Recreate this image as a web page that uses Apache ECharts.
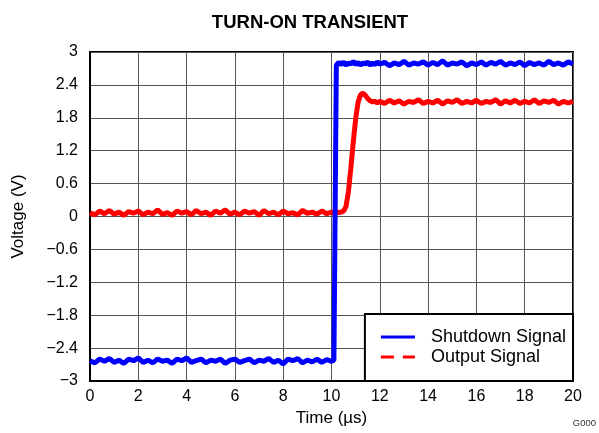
<!DOCTYPE html>
<html><head><meta charset="utf-8">
<script src="https://cdn.jsdelivr.net/npm/echarts@6/dist/echarts.min.js"></script>
<style>html,body{margin:0;padding:0;background:#fff}#c{width:599px;height:433px}</style>
</head><body><div id="c"></div>
<script>
const titleText = 'TURN-ON TRANSIENT';
const xName = 'Time (µs)';
const yName = 'Voltage (V)';
const seriesNames = ['Shutdown Signal', 'Output Signal'];
const xTicks = [0, 2, 4, 6, 8, 10, 12, 14, 16, 18, 20];
const yTicks = [-3, -2.4, -1.8, -1.2, -0.6, 0, 0.6, 1.2, 1.8, 2.4, 3];

const time = [
  0, 0.2, 0.4, 0.6, 0.8, 1, 1.2, 1.4, 1.6, 1.8,
  2, 2.2, 2.4, 2.6, 2.8, 3, 3.2, 3.4, 3.6, 3.8,
  4, 4.2, 4.4, 4.6, 4.8, 5, 5.2, 5.4, 5.6, 5.8,
  6, 6.2, 6.4, 6.6, 6.8, 7, 7.2, 7.4, 7.6, 7.8,
  8, 8.2, 8.4, 8.6, 8.8, 9, 9.2, 9.4, 9.6, 9.8,
  10, 10.1, 10.2, 10.3, 10.4, 10.5, 10.6, 10.7, 10.8, 10.9,
  11, 11.1, 11.2, 11.3, 11.4, 11.5, 11.6, 11.7, 11.8, 11.9,
  12, 12.2, 12.4, 12.6, 12.8, 13, 13.2, 13.4, 13.6, 13.8,
  14, 14.2, 14.4, 14.6, 14.8, 15, 15.2, 15.4, 15.6, 15.8,
  16, 16.2, 16.4, 16.6, 16.8, 17, 17.2, 17.4, 17.6, 17.8,
  18, 18.2, 18.4, 18.6, 18.8, 19, 19.2, 19.4, 19.6, 19.8,
  20
];
const shutdown = [
  -2.63, -2.67, -2.60, -2.64, -2.59, -2.66, -2.62, -2.68, -2.60, -2.63,
  -2.58, -2.66, -2.62, -2.67, -2.60, -2.64, -2.62, -2.68, -2.60, -2.63,
  -2.58, -2.66, -2.63, -2.60, -2.67, -2.62, -2.64, -2.60, -2.68, -2.62,
  -2.60, -2.66, -2.63, -2.60, -2.67, -2.62, -2.64, -2.59, -2.66, -2.62,
  -2.69, -2.60, -2.63, -2.59, -2.67, -2.62, -2.65, -2.60, -2.66, -2.61,
  -2.64, -2.62, 2.76, 2.81, 2.77, 2.82, 2.76, 2.80, 2.78, 2.83,
  2.77, 2.81, 2.76, 2.80, 2.78, 2.82, 2.76, 2.80, 2.77, 2.82,
  2.78, 2.81, 2.75, 2.80, 2.77, 2.83, 2.76, 2.80, 2.78, 2.82,
  2.76, 2.81, 2.77, 2.84, 2.76, 2.80, 2.78, 2.82, 2.75, 2.80,
  2.77, 2.82, 2.76, 2.81, 2.78, 2.83, 2.76, 2.80, 2.77, 2.82,
  2.75, 2.81, 2.77, 2.80, 2.76, 2.83, 2.77, 2.80, 2.76, 2.82,
  2.78
];
const output = [
  0.07, 0.03, 0.10, 0.05, 0.11, 0.04, 0.08, 0.02, 0.09, 0.06,
  0.10, 0.03, 0.08, 0.05, 0.12, 0.04, 0.07, 0.02, 0.10, 0.06,
  0.09, 0.03, 0.11, 0.05, 0.08, 0.02, 0.10, 0.06, 0.12, 0.04,
  0.08, 0.03, 0.10, 0.06, 0.09, 0.02, 0.11, 0.05, 0.08, 0.03,
  0.10, 0.05, 0.07, 0.03, 0.11, 0.06, 0.08, 0.04, 0.10, 0.05,
  0.08, 0.06, 0.09, 0.07, 0.08, 0.10, 0.18, 0.45, 0.88, 1.35,
  1.78, 2.08, 2.22, 2.25, 2.21, 2.15, 2.11, 2.09, 2.10, 2.07,
  2.10, 2.06, 2.12, 2.07, 2.11, 2.05, 2.10, 2.08, 2.13, 2.06,
  2.10, 2.07, 2.12, 2.05, 2.11, 2.08, 2.13, 2.06, 2.10, 2.07,
  2.12, 2.06, 2.10, 2.08, 2.13, 2.05, 2.11, 2.07, 2.12, 2.06,
  2.10, 2.07, 2.13, 2.06, 2.11, 2.08, 2.12, 2.05, 2.10, 2.07,
  2.10
];

const font = "'Liberation Sans', Arial, sans-serif";
function fmt(v) {
  const r = Math.round(v * 10) / 10;
  const t = yTicks.find(k => Math.abs(k - r) < 1e-6);
  const s = String(t === undefined ? r : t);
  return s.replace('-', '\u2212');
}
const chart = echarts.init(document.getElementById('c'));
chart.setOption({
  animation: false,
  backgroundColor: '#fff',
  title: {
    text: titleText, left: 305, top: 8, textAlign: 'center',
    textStyle: { fontFamily: font, fontSize: 18.5, fontWeight: 'bold', color: '#000' }
  },
  grid: { left: 90, right: 26, top: 52, bottom: 52, show: true, borderColor: '#000', borderWidth: 2, backgroundColor: 'transparent' },
  xAxis: {
    type: 'value', min: xTicks[0], max: xTicks[xTicks.length - 1], interval: 2,
    name: xName, nameLocation: 'middle', nameGap: 22,
    nameTextStyle: { fontFamily: font, fontSize: 17, color: '#000' },
    axisLine: { show: true, onZero: false, lineStyle: { color: '#000', width: 2 } },
    axisTick: { show: false },
    axisLabel: { fontFamily: font, fontSize: 16, color: '#000', margin: 8 },
    splitLine: { show: true, lineStyle: { color: '#555', width: 1 } }
  },
  yAxis: {
    type: 'value', min: yTicks[0], max: yTicks[yTicks.length - 1], interval: 0.6,
    name: yName, nameLocation: 'middle', nameGap: 63, nameRotate: 90,
    nameTextStyle: { fontFamily: font, fontSize: 17, color: '#000' },
    axisLine: { show: true, onZero: false, lineStyle: { color: '#000', width: 2 } },
    axisTick: { show: false },
    axisLabel: { fontFamily: font, fontSize: 16, color: '#000', margin: 12, formatter: fmt },
    splitLine: { show: true, lineStyle: { color: '#555', width: 1 } }
  },
  legend: {
    orient: 'vertical', right: 26, bottom: 52,
    backgroundColor: '#fff', borderColor: '#000', borderWidth: 2,
    padding: [14, 7, 15, 16], itemGap: 2, itemWidth: 34, itemHeight: 3,
    textStyle: { fontFamily: font, fontSize: 18, color: '#000', padding: [0, 0, 0, 11] },
    data: [
      { name: seriesNames[0], icon: 'path://M0,0H34V3H0Z' },
      { name: seriesNames[1], icon: 'path://M0,0H13V3H0ZM22,0H34V3H22Z' }
    ]
  },
  series: [
    {
      name: seriesNames[0], type: 'line', showSymbol: false, symbol: 'none',
      color: '#0000ff', lineStyle: { color: '#0000ff', width: 5 },
      data: time.map((t, i) => [t, shutdown[i]]), z: 3
    },
    {
      name: seriesNames[1], type: 'line', showSymbol: false, symbol: 'none',
      color: '#ff0000', lineStyle: { color: '#ff0000', width: 5 },
      data: time.map((t, i) => [t, output[i]]), z: 2
    }
  ],
  graphic: [{
    type: 'text', right: 3, bottom: 5,
    style: { text: 'G000', fontFamily: font, fontSize: 9.5, fill: '#333' }
  }]
});
</script></body></html>
